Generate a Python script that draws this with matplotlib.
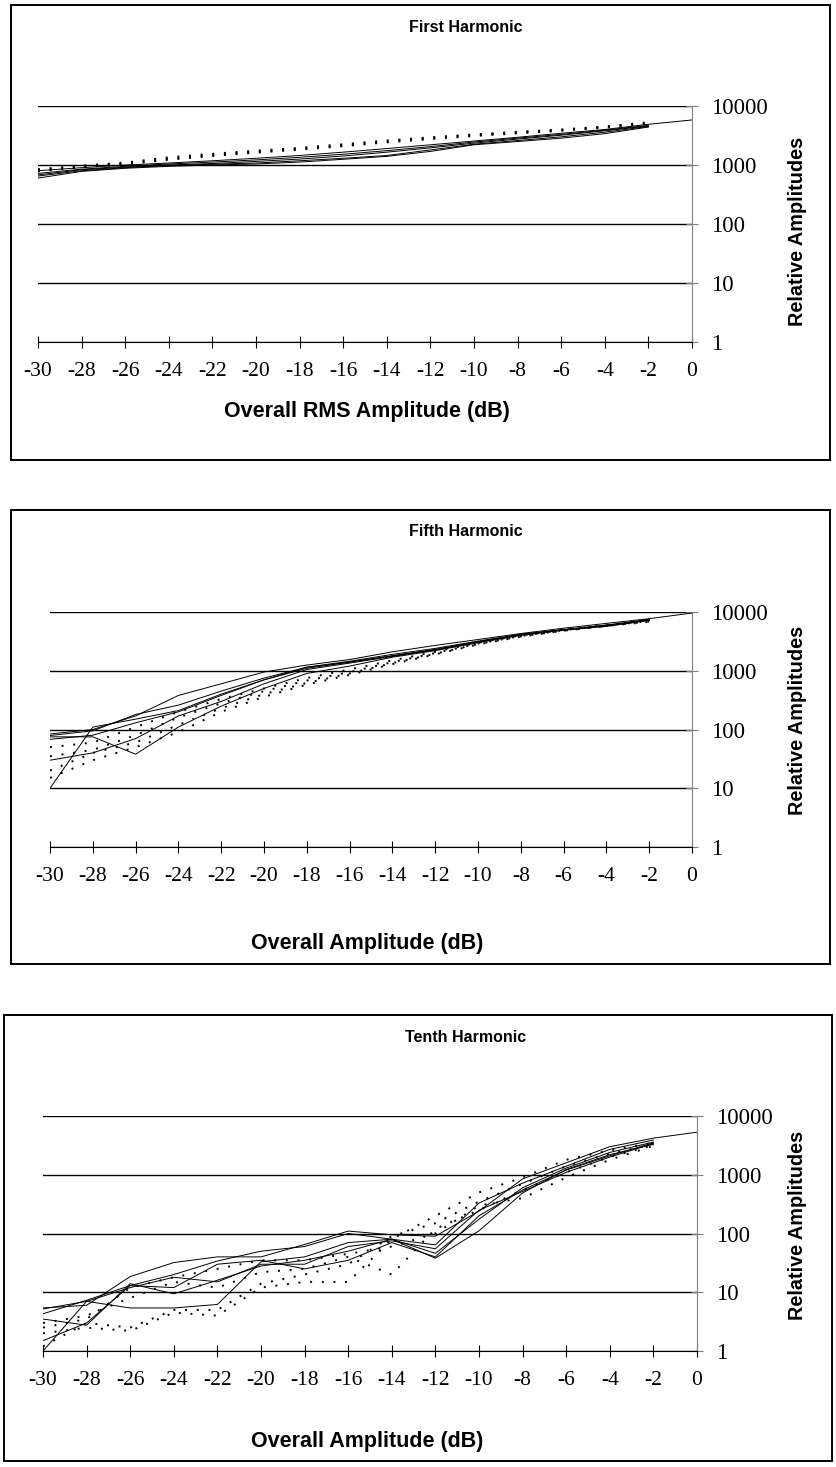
import matplotlib.pyplot as plt
from matplotlib.patches import Rectangle

# amplitude (dB) points, measured every 2 dB
x = [-30, -28, -26, -24, -22, -20, -18, -16, -14, -12, -10, -8, -6, -4, -2]
x_ref = x + [0]

# ---- First harmonic ----
h1_solid = [
    [800, 900, 1000, 1080, 1180, 1300, 1450, 1650, 1900, 2200, 2550, 2950, 3450, 4000, 4900, 5800],
    [720, 850, 950, 1040, 1120, 1220, 1350, 1520, 1750, 2050, 2450, 2850, 3300, 3900, 4700],
    [680, 830, 920, 1000, 1060, 1150, 1260, 1420, 1650, 1950, 2350, 2750, 3200, 3800, 4600],
    [650, 800, 900, 980, 1030, 1080, 1180, 1300, 1450, 1800, 2250, 2600, 3000, 3600, 4500],
    [600, 780, 880, 950, 1000, 1040, 1120, 1250, 1400, 1700, 2200, 2500, 2850, 3400, 4400],
]
h1_dotted = [
    [850, 980, 1100, 1350, 1550, 1750, 1950, 2250, 2600, 2950, 3300, 3650, 4000, 4500, 5300],
    [800, 950, 1060, 1280, 1480, 1680, 1880, 2150, 2500, 2850, 3200, 3550, 3900, 4400, 5100],
    [780, 920, 1030, 1230, 1420, 1620, 1820, 2080, 2420, 2750, 3100, 3450, 3800, 4300, 5000],
]

# ---- Fifth harmonic ----
h5_solid = [
    [84, 100, 170, 380, 600, 950, 1250, 1550, 2100, 2700, 3400, 4300, 5300, 6400, 7700, 9600],
    [79, 95, 180, 260, 450, 750, 1150, 1450, 1900, 2400, 3200, 4200, 5000, 6000, 7500],
    [10, 110, 150, 210, 400, 700, 1150, 1400, 1800, 2300, 3100, 4100, 5000, 5900, 7300],
    [75, 75, 38, 110, 250, 500, 900, 1200, 1700, 2200, 3000, 4000, 4900, 5700, 7200],
    [30, 40, 70, 170, 300, 600, 1050, 1350, 1750, 2250, 3100, 4100, 5000, 5800, 7400],
    [68, 80, 130, 200, 380, 700, 1100, 1400, 1800, 2300, 3100, 4100, 5000, 5900, 7300],
]
h5_dotted = [
    [50, 60, 110, 200, 330, 500, 750, 1050, 1500, 2100, 3000, 4000, 5000, 6000, 7200],
    [35, 45, 80, 160, 280, 450, 680, 950, 1400, 2000, 2900, 3900, 4900, 5900, 7000],
    [20, 40, 60, 120, 230, 400, 620, 900, 1350, 1950, 2850, 3850, 4800, 5800, 6900],
    [15, 30, 50, 90, 200, 360, 580, 850, 1300, 1900, 2800, 3800, 4800, 5800, 6800],
]

# ---- Tenth harmonic ----
h10_solid = [
    [5.4, 6, 18.5, 32, 40, 40, 65, 110, 95, 90, 240, 850, 1600, 3000, 4200, 5300],
    [4.3, 7.3, 13, 20, 34, 50, 60, 100, 80, 64, 330, 720, 1400, 2700, 3900],
    [5.2, 7, 5.4, 5.4, 6.2, 33, 40, 70, 80, 46, 175, 600, 1300, 2400, 3600],
    [3.5, 2.75, 14, 9.4, 16, 28, 35, 50, 80, 38, 111, 490, 1230, 2200, 3300],
    [1, 7, 12, 18, 15, 30, 30, 60, 75, 55, 250, 520, 1100, 2000, 3400],
    [1.5, 3, 13, 12, 30, 35, 25, 35, 70, 40, 200, 550, 1200, 2100, 3500],
]
h10_dotted = [
    [2, 2.5, 2.2, 4.5, 4, 12, 15, 15, 80, 200, 500, 900, 1800, 2600, 3500],
    [1.2, 3, 2.5, 5, 5, 14, 20, 30, 90, 150, 350, 700, 1400, 2300, 3300],
    [3, 4, 8, 15, 12, 22, 25, 40, 20, 120, 250, 550, 1100, 2000, 3200],
    [2.5, 3.5, 12, 18, 25, 35, 35, 45, 60, 100, 300, 400, 900, 1800, 3100],
]

y_ticks = [1, 10, 100, 1000, 10000]
x_ticks = list(range(-30, 1, 2))

W, H = 837, 1467
fig = plt.figure(figsize=(W / 100, H / 100), dpi=100)

serif = 'Liberation Serif'
sans = 'Liberation Sans'


def box(l, t, r, b):
    fig.patches.append(Rectangle((l / W, 1 - b / H), (r - l) / W, (b - t) / H,
                                 transform=fig.transFigure, fill=False,
                                 edgecolor='black', lw=1.4))


def panel(l, t, r, b, solid, dotted, title, xlabel, title_y, xlabel_y, ylab_y, frame):
    box(*frame)
    ax = fig.add_axes([l / W, 1 - b / H, (r - l) / W, (b - t) / H])
    for s in solid:
        ax.plot(x_ref[:len(s)], s, color='black', lw=0.7)
    for s in dotted:
        ax.plot(x[:len(s)], s, color='black', lw=1.4, linestyle=(0, (1, 5)))
    ax.set_yscale('log')
    ax.set_xlim(-30, 0)
    ax.set_ylim(1, 10000)
    ax.yaxis.tick_right()
    ax.set_yticks(y_ticks)
    ax.set_yticklabels([str(v) for v in y_ticks], fontfamily=serif, fontsize=16.5)
    ax.yaxis.set_minor_locator(plt.NullLocator())
    ax.set_xticks(x_ticks)
    ax.set_xticklabels([str(v) for v in x_ticks], fontfamily=serif, fontsize=15.5)
    ax.tick_params(axis='x', direction='inout', length=9, width=0.8, pad=10)
    ax.tick_params(axis='y', direction='inout', length=8, width=0.8, pad=10,
                   colors='black')
    ax.tick_params(axis='y', color='#808080')
    ax.grid(axis='y', color='black', lw=1)
    ax.spines['top'].set_visible(False)
    ax.spines['left'].set_visible(False)
    ax.spines['right'].set_color('#808080')
    ax.spines['bottom'].set_color('black')
    ax.set_facecolor('none')
    fig.text(466 / W, 1 - title_y / H, title, ha='center', va='center',
             fontfamily=sans, fontweight='bold', fontsize=11.5)
    fig.text(367 / W, 1 - xlabel_y / H, xlabel, ha='center', va='center',
             fontfamily=sans, fontweight='bold', fontsize=15.5)
    fig.text(798 / W, 1 - ylab_y / H, 'Relative Amplitudes', ha='center',
             va='center', rotation=90, fontfamily=sans, fontweight='bold',
             fontsize=14.3)
    return ax


panel(38, 106, 692, 342, h1_solid, h1_dotted, 'First Harmonic',
      'Overall RMS Amplitude (dB)', 28, 411, 231, (11, 5, 830, 460))
panel(50, 612, 692, 847, h5_solid, h5_dotted, 'Fifth Harmonic',
      'Overall Amplitude (dB)', 531, 944, 720, (11, 510, 830, 964))
panel(43, 1116, 697, 1351, h10_solid, h10_dotted, 'Tenth Harmonic',
      'Overall Amplitude (dB)', 1037, 1441, 1225, (4, 1015, 832, 1461))

fig.savefig('out.png', dpi=100, facecolor='white')
